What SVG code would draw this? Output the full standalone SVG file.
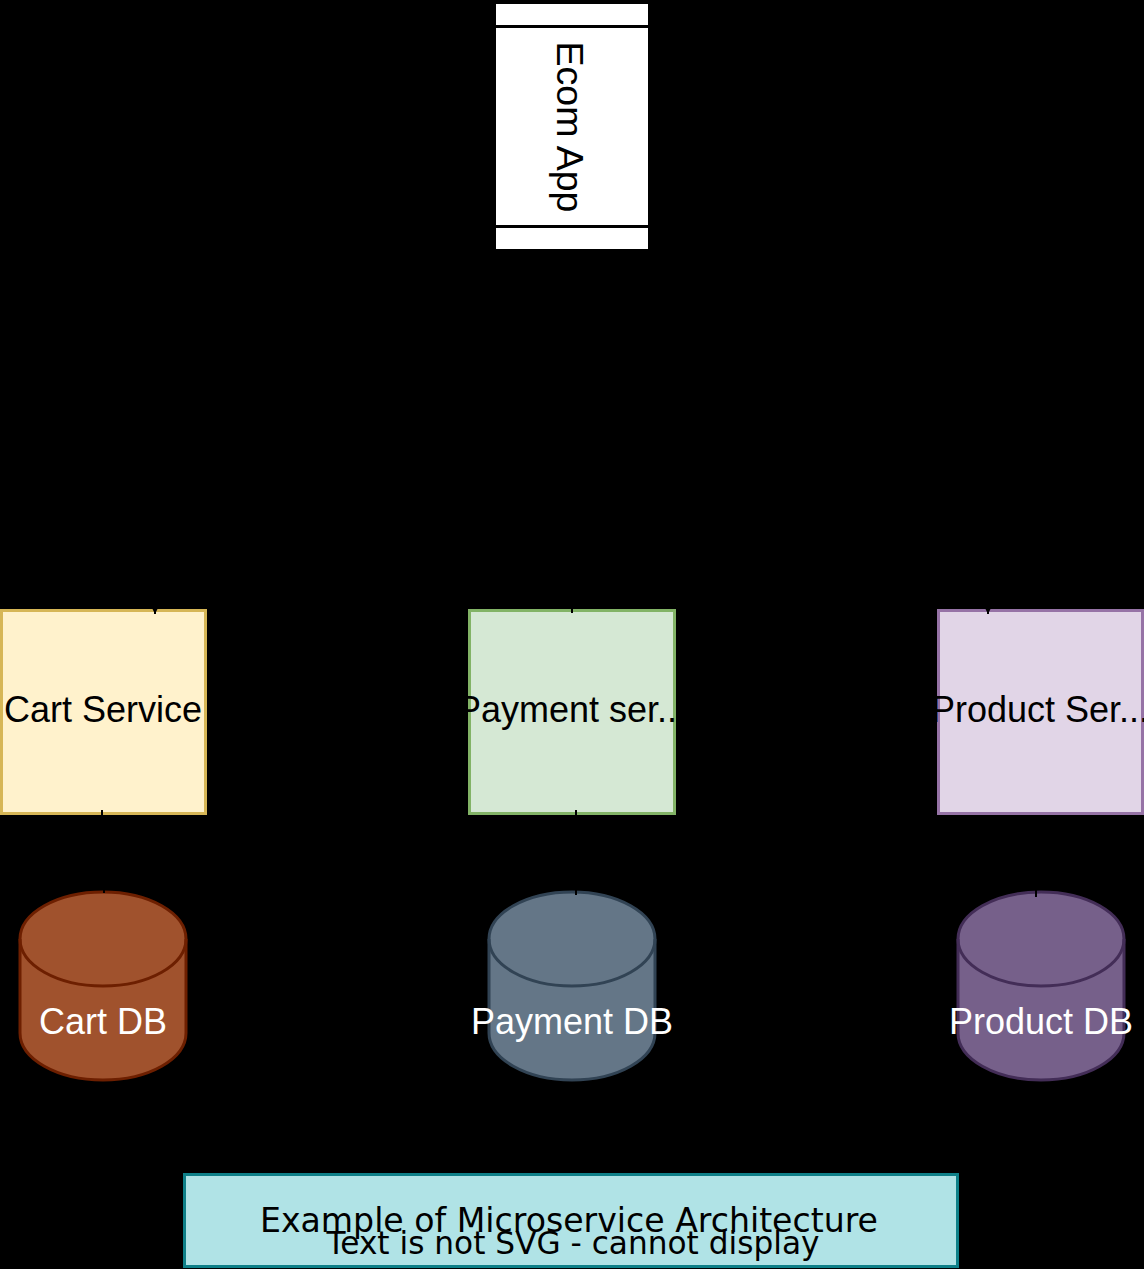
<svg xmlns="http://www.w3.org/2000/svg" width="1144" height="1269" viewBox="0 0 1144 1269">
<defs>
<style>
.lbl{font-family:"Liberation Sans",Arial,sans-serif;font-size:36px;text-anchor:middle}
.conn{stroke:#000;stroke-width:2;fill:none}
.db{stroke-width:3}
</style>
<marker id="arr" viewBox="0 0 10 10" refX="10" refY="5" markerWidth="10" markerHeight="10" orient="auto" markerUnits="userSpaceOnUse">
<path d="M0,0 L10,5 L0,10 z" fill="#000"/>
</marker>
</defs>
<rect x="0" y="0" width="1144" height="1269" fill="#000"/>
<g id="ecom-app">
<rect x="495.5" y="3.5" width="153" height="246" fill="#fff" stroke="#000" stroke-width="1"/>
<line x1="495" y1="26.5" x2="649" y2="26.5" stroke="#000" stroke-width="3"/>
<line x1="495" y1="226.5" x2="649" y2="226.5" stroke="#000" stroke-width="3"/>
<text class="lbl" x="557" y="127" transform="rotate(90 557 127)" style="font-size:37.5px">Ecom App</text>
</g>
<g id="cart-service">
<rect x="1.5" y="610.5" width="204" height="203" fill="#fff2cc" stroke="#d6b656" stroke-width="3"/>
<text class="lbl" x="103" y="722">Cart Service</text>
</g>
<g id="payment-service">
<rect x="469.5" y="610.5" width="205" height="203" fill="#d5e8d4" stroke="#82b366" stroke-width="3"/>
<text class="lbl" x="572" y="722">Payment ser...</text>
</g>
<g id="product-service">
<rect x="938.5" y="610.5" width="204" height="203" fill="#e1d5e7" stroke="#9673a6" stroke-width="3"/>
<text class="lbl" x="1040" y="722">Product Ser...</text>
</g>
<g id="cart-db">
<path class="db" d="M20,939 A83,47 0 0 1 186,939 L186,1033 A83,47 0 0 1 20,1033 Z" fill="#a0522d" stroke="#6d1f00"/>
<path class="db" d="M20,939 A83,47 0 0 0 186,939" fill="none" stroke="#6d1f00"/>
<text class="lbl" x="103" y="1034" fill="#fff">Cart DB</text>
</g>
<g id="payment-db">
<path class="db" d="M489,939 A83,47 0 0 1 655,939 L655,1033 A83,47 0 0 1 489,1033 Z" fill="#647687" stroke="#314354"/>
<path class="db" d="M489,939 A83,47 0 0 0 655,939" fill="none" stroke="#314354"/>
<text class="lbl" x="572" y="1034" fill="#fff">Payment DB</text>
</g>
<g id="product-db">
<path class="db" d="M958,939 A83,47 0 0 1 1124,939 L1124,1033 A83,47 0 0 1 958,1033 Z" fill="#76608a" stroke="#432d57"/>
<path class="db" d="M958,939 A83,47 0 0 0 1124,939" fill="none" stroke="#432d57"/>
<text class="lbl" x="1041" y="1034" fill="#fff">Product DB</text>
</g>
<g id="caption">
<rect x="184.5" y="1174.5" width="773" height="92" fill="#b0e3e6" stroke="#0e8088" stroke-width="3"/>
<text x="569" y="1232" font-family="DejaVu Sans, sans-serif" font-size="34" text-anchor="middle" textLength="618" lengthAdjust="spacingAndGlyphs">Example of Microservice Architecture</text>
<text x="573" y="1254" font-family="DejaVu Sans, sans-serif" font-size="32" text-anchor="middle" textLength="493" lengthAdjust="spacingAndGlyphs">Text is not SVG - cannot display</text>
</g>
<g id="connectors">
<path class="conn" d="M572,250 L572,430 L155,430 L155,614" marker-end="url(#arr)"/>
<path class="conn" d="M572,250 L572,613" stroke-width="3"/>
<path class="conn" d="M572,250 L572,430 L988,430 L988,614" marker-end="url(#arr)"/>
<path class="conn" d="M102,810 L102,850 L104,850 L104,893" stroke-width="3"/>
<path class="conn" d="M576,810 L576,895" stroke-width="3"/>
<path class="conn" d="M1036,850 L1036,897" stroke-width="3"/>
</g>
</svg>
